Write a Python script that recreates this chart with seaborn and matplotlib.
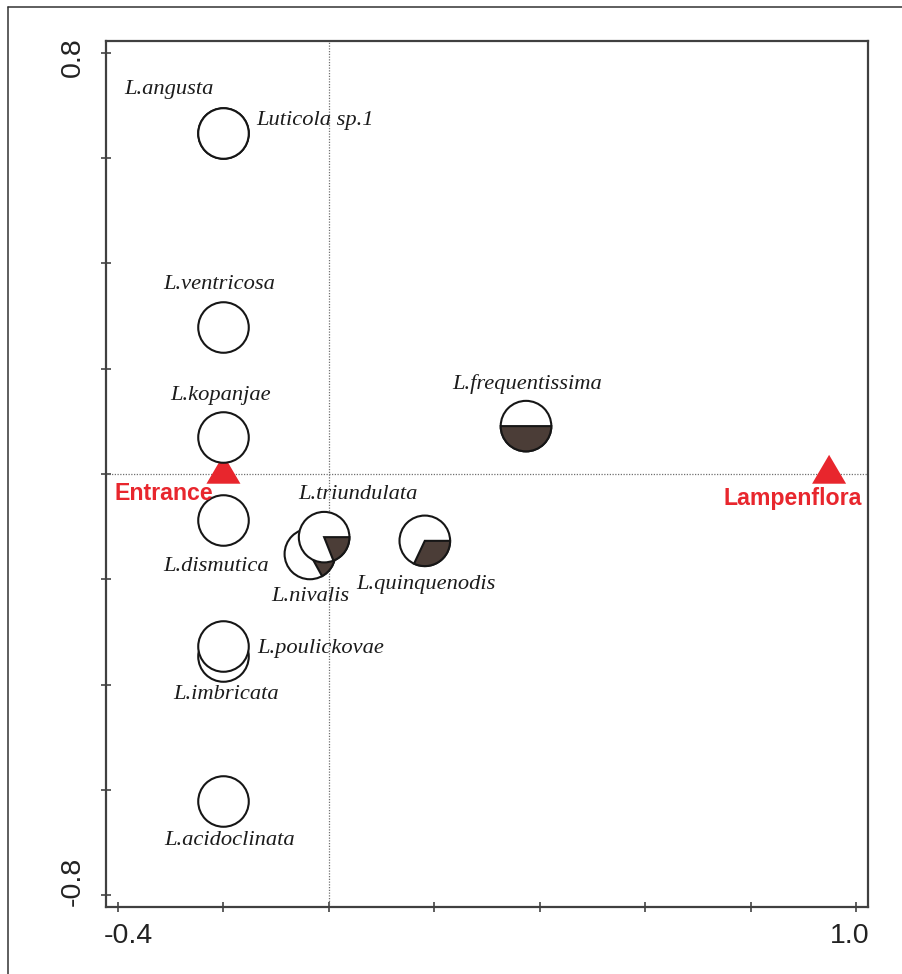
import numpy as np
import pandas as pd
import matplotlib
matplotlib.use("Agg")
import matplotlib.pyplot as plt
import matplotlib.transforms as mtransforms
from matplotlib.patches import Circle, Wedge
from matplotlib.lines import Line2D
import seaborn as sns

# ---------------- data ----------------
plain_species = ["L.angusta", "Luticola sp.1", "L.ventricosa", "L.kopanjae",
                 "L.dismutica", "L.imbricata", "L.poulickovae", "L.acidoclinata"]
plain_x = [-0.20, -0.20, -0.20, -0.20, -0.20, -0.20, -0.20, -0.20]
plain_y = [0.648, 0.648, 0.279, 0.070, -0.087, -0.346, -0.327, -0.621]

pie_species = ["L.nivalis", "L.triundulata", "L.quinquenodis", "L.frequentissima"]
pie_x = [-0.036, -0.009, 0.182, 0.374]
pie_y = [-0.152, -0.120, -0.127, 0.091]
pie_dark_fraction = [0.17, 0.19, 0.32, 0.50]

env_names = ["Entrance", "Lampenflora"]
env_x = [-0.20, 0.949]
env_y = [0.009, 0.009]

x_ticks = [-0.4, -0.2, 0.0, 0.2, 0.4, 0.6, 0.8, 1.0]
x_tick_labels = ["-0.4", "", "", "", "", "", "", "1.0"]
y_ticks = [-0.8, -0.6, -0.4, -0.2, 0.0, 0.2, 0.4, 0.6, 0.8]
y_tick_labels = ["-0.8", "", "", "", "", "", "", "", "0.8"]

# ---------------- layout / style (pixel offsets of labels) ----------------
label_offsets_px = {
    "L.angusta": (-54, 43), "Luticola sp.1": (92, 12), "L.ventricosa": (-4, 43),
    "L.kopanjae": (-3, 42), "L.dismutica": (-7, -47), "L.imbricata": (3, -38),
    "L.poulickovae": (97, -2), "L.acidoclinata": (6, -40),
    "L.nivalis": (0, -43), "L.triundulata": (34, 43), "L.quinquenodis": (1, -44),
    "L.frequentissima": (1, 42),
}
env_offsets_px = {"Entrance": (-59.5, -30.5), "Lampenflora": (-36, -35.5)}

RED = "#e8262d"
DARK = "#4b3d37"
EDGE = "#161616"
TXT = "#1c1c1c"
R = 0.048

sns.set_theme(style="white")
plt.rcParams["font.family"] = ["Liberation Sans", "DejaVu Sans"]

fig = plt.figure(figsize=(9.02, 9.74), dpi=100)
ax = fig.add_axes([106 / 902, 1 - 907 / 974, (868 - 106) / 902, (907 - 41) / 974])
ax.set_xlim(-0.4228, 1.0228)
ax.set_ylim(-0.8228, 0.8228)

# reference dotted lines
ax.axvline(0, color="#707070", lw=0.9, ls=(0, (1, 1.2)), zorder=1)
ax.axhline(0, color="#707070", lw=0.9, ls=(0, (1, 1.2)), zorder=1)

# environment triangles
env_df = pd.DataFrame({"x": env_x, "y": env_y, "name": env_names})
tri = [(-1, -0.85), (1, -0.85), (0, 0.85)]
sns.scatterplot(data=env_df, x="x", y="y", marker=tri, s=600, color=RED,
                edgecolor="none", linewidth=0, zorder=2, legend=False, ax=ax)

# plain (open) circles
plain_df = pd.DataFrame({"x": plain_x, "y": plain_y, "species": plain_species})
sns.scatterplot(data=plain_df, x="x", y="y", s=1324, color="white",
                edgecolor=EDGE, linewidth=1.5, zorder=3, legend=False, ax=ax)

# pie circles
for i, (px, py, f) in enumerate(zip(pie_x, pie_y, pie_dark_fraction)):
    z = 4 + i * 0.2
    ax.add_patch(Circle((px, py), R, facecolor="white", edgecolor=EDGE, lw=1.5, zorder=z))
    ax.add_patch(Wedge((px, py), R, 360 - 360 * f, 360, facecolor=DARK,
                       edgecolor=EDGE, lw=1.5, zorder=z + 0.1))

# species labels
for name, px, py in list(zip(plain_species, plain_x, plain_y)) + list(zip(pie_species, pie_x, pie_y)):
    dx, dy = label_offsets_px[name]
    ax.annotate(name, (px, py), xytext=(dx * 0.72, dy * 0.72), textcoords="offset points",
                ha="center", va="center", fontsize=16.2, style="italic", color=TXT,
                family=["Liberation Serif", "DejaVu Serif"], zorder=6)

for name, px, py in zip(env_names, env_x, env_y):
    dx, dy = env_offsets_px[name]
    ax.annotate(name, (px, py), xytext=(dx * 0.72, dy * 0.72), textcoords="offset points",
                ha="center", va="baseline", fontsize=16.7, fontweight="bold", color=RED,
                family=["Liberation Sans", "DejaVu Sans"], zorder=6)

# axes styling
ax.set_xlabel("")
ax.set_ylabel("")
ax.set_xticks(x_ticks)
ax.set_xticklabels(x_tick_labels)
ax.set_yticks(y_ticks)
ax.set_yticklabels(y_tick_labels)
ax.tick_params(axis="both", which="major", bottom=True, left=True, top=False, right=False,
               direction="inout", length=7.5, width=1.1, color="#333333",
               labelsize=20.5, labelcolor="#222222")
ax.tick_params(axis="x", pad=8)
ax.tick_params(axis="y", pad=11, labelrotation=90)
for sp in ax.spines.values():
    sp.set_visible(True)
    sp.set_color("#404040")
    sp.set_linewidth(1.6)
ax.grid(False)

for lab in ax.get_yticklabels():
    lab.set_va("center")

def shift(lab, dx_px, dy_px):
    off = mtransforms.ScaledTranslation(dx_px / 100, dy_px / 100, fig.dpi_scale_trans)
    lab.set_transform(lab.get_transform() + off)

xl = ax.get_xticklabels()
shift(xl[0], 10, 0)
shift(xl[-1], -6, 0)
yl = ax.get_yticklabels()
shift(yl[0], 0, 14)
shift(yl[-1], 0, -4)

# outer frame lines (left and top)
fig.add_artist(Line2D([8 / 902, 8 / 902], [0, 1 - 7 / 974], transform=fig.transFigure,
                      color="#333333", lw=1.1))
fig.add_artist(Line2D([8 / 902, 1], [1 - 7 / 974, 1 - 7 / 974], transform=fig.transFigure,
                      color="#333333", lw=1.1))

fig.savefig("out.png", dpi=100)
